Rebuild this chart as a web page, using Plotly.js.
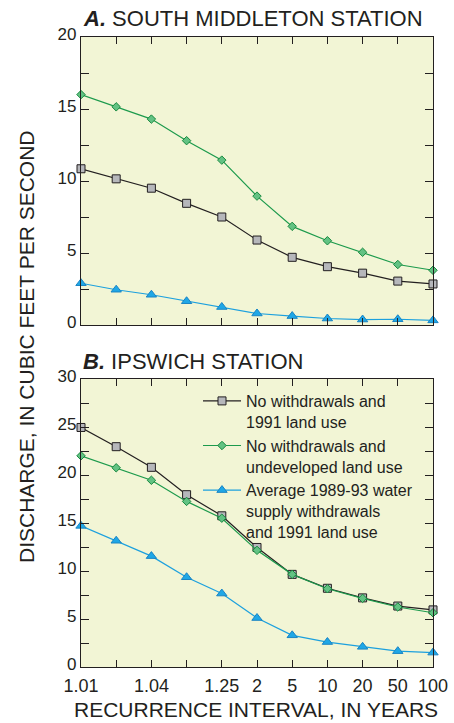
<!DOCTYPE html>
<html>
<head>
<meta charset="utf-8">
<script src="https://cdn.plot.ly/plotly-3.0.1.min.js"></script>
<style>html,body{margin:0;padding:0;background:#fff;}#chart{width:454px;height:723px;}</style>
</head>
<body>
<div id="chart"></div>
<script>
// Recurrence interval categories (years) and displayed tick labels
const recurrence = ['1.01','1.02','1.04','1.11','1.25','2','5','10','20','50','100'];
const tickLabels = ['1.01','','1.04','','1.25','2','5','10','20','50','100'];

// A. South Middleton station (cubic feet per second)
const smNoWithdrawals1991 = [10.85, 10.15, 9.5, 8.45, 7.5, 5.9, 4.7, 4.05, 3.6, 3.05, 2.85];
const smUndeveloped = [16.0, 15.15, 14.3, 12.8, 11.45, 8.95, 6.85, 5.85, 5.05, 4.2, 3.8];
const smWithdrawals = [2.9, 2.45, 2.1, 1.65, 1.25, 0.8, 0.62, 0.45, 0.38, 0.4, 0.32];

// B. Ipswich station (cubic feet per second)
const ipNoWithdrawals1991 = [24.95, 22.95, 20.8, 17.95, 15.75, 12.45, 9.65, 8.2, 7.2, 6.35, 5.95];
const ipUndeveloped = [22.0, 20.75, 19.45, 17.25, 15.5, 12.15, 9.65, 8.15, 7.15, 6.25, 5.65];
const ipWithdrawals = [14.7, 13.15, 11.55, 9.35, 7.65, 5.1, 3.3, 2.6, 2.1, 1.65, 1.5];

const seriesNames = [
  'No withdrawals and<br>1991 land use',
  'No withdrawals and<br>undeveloped land use',
  'Average 1989-93 water<br>supply withdrawals<br>and 1991 land use'
];

const W = 454, H = 723;
const black = '#231f20';
const styles = [
  {line: {color: black, width: 1.2}, marker: {symbol: 'square', size: 8, color: '#b6b7bb', line: {color: black, width: 1}}},
  {line: {color: '#1c9a4c', width: 1.2}, marker: {symbol: 'diamond', size: 6.5, color: '#63c283', line: {color: '#17893f', width: 1}}},
  {line: {color: '#1ca0de', width: 1.2}, marker: {symbol: 'triangle-up', size: 9, color: '#1fa7e6', line: {color: '#1a84c4', width: 1}}}
];

function mk(y, idx, xa, ya, show) {
  return {
    x: recurrence, y: y, type: 'scatter', mode: 'lines+markers',
    name: seriesNames[idx], xaxis: xa, yaxis: ya, showlegend: show,
    line: styles[idx].line, marker: styles[idx].marker, cliponaxis: false
  };
}

const traces = [
  mk(smNoWithdrawals1991, 0, 'x', 'y', false),
  mk(smUndeveloped, 1, 'x', 'y', false),
  mk(smWithdrawals, 2, 'x', 'y', false),
  mk(ipNoWithdrawals1991, 0, 'x2', 'y2', true),
  mk(ipUndeveloped, 1, 'x2', 'y2', true),
  mk(ipWithdrawals, 2, 'x2', 'y2', true)
];

const xTickFont = {family: 'Liberation Sans, Arial, sans-serif', size: 18, color: black};
const yTickFont = {family: 'Liberation Sans, Arial, sans-serif', size: 17, color: black};
function xax(anchor, showLabels) {
  return {
    domain: [81 / W, 433 / W], anchor: anchor, type: 'category',
    range: [0, 10], tickvals: recurrence, ticktext: tickLabels,
    ticks: 'inside', ticklen: 7, tickwidth: 1, tickcolor: black,
    showline: true, linecolor: black, linewidth: 1.2, mirror: 'allticks',
    showgrid: false, zeroline: false, showticklabels: showLabels,
    tickfont: xTickFont, ticklabelstandoff: 2, automargin: false, fixedrange: true
  };
}
function yax(anchor, top, bottom, max) {
  return {
    domain: [1 - bottom / H, 1 - top / H], anchor: anchor,
    range: [0, max], tick0: 0, dtick: 5,
    ticks: 'inside', ticklen: 8, tickwidth: 1, tickcolor: black,
    minor: {dtick: 2.5, tick0: 0, ticks: 'inside', ticklen: 8, tickwidth: 1, tickcolor: black, showgrid: false},
    showline: true, linecolor: black, linewidth: 1.2, mirror: 'allticks',
    showgrid: false, zeroline: false, tickfont: yTickFont, ticklabelshift: -3,
    automargin: false, fixedrange: true
  };
}

const titleFont = {family: 'Liberation Sans, Arial, sans-serif', size: 22, color: black};
const axisTitleFont = {family: 'Liberation Sans, Arial, sans-serif', size: 21, color: black};
const layout = {
  width: W, height: H,
  margin: {l: 0, r: 0, t: 0, b: 0},
  paper_bgcolor: '#ffffff',
  plot_bgcolor: '#f2f5d5',
  xaxis: xax('y', false),
  yaxis: yax('x', 37, 325, 20),
  xaxis2: xax('y2', true),
  yaxis2: yax('x2', 379, 667, 30),
  showlegend: true,
  legend: {
    x: 198 / W, y: 1 - 384 / H, xanchor: 'left', yanchor: 'top',
    bgcolor: 'rgba(0,0,0,0)', borderwidth: 0, valign: 'top',
    font: {family: 'Liberation Sans, Arial, sans-serif', size: 16, color: black},
    tracegroupgap: 0, itemwidth: 38
  },
  annotations: [
    {text: '<b><i>A.</i></b> SOUTH MIDDLETON STATION', xref: 'paper', yref: 'paper',
     x: 81 / W, y: 1 - 33 / H, xanchor: 'left', yanchor: 'bottom', showarrow: false, font: titleFont},
    {text: '<b><i>B.</i></b> IPSWICH STATION', xref: 'paper', yref: 'paper',
     x: 81 / W, y: 1 - 376 / H, xanchor: 'left', yanchor: 'bottom', showarrow: false, font: titleFont},
    {text: 'DISCHARGE, IN CUBIC FEET PER SECOND', xref: 'paper', yref: 'paper',
     x: 26 / W, y: 1 - 347 / H, xanchor: 'center', yanchor: 'middle', textangle: -90, showarrow: false, font: axisTitleFont},
    {text: 'RECURRENCE INTERVAL, IN YEARS', xref: 'paper', yref: 'paper',
     x: 256 / W, y: 1 - 723 / H, xanchor: 'center', yanchor: 'bottom', showarrow: false, font: axisTitleFont}
  ]
};

Plotly.newPlot('chart', traces, layout, {displayModeBar: false, staticPlot: true});
</script>
</body>
</html>
